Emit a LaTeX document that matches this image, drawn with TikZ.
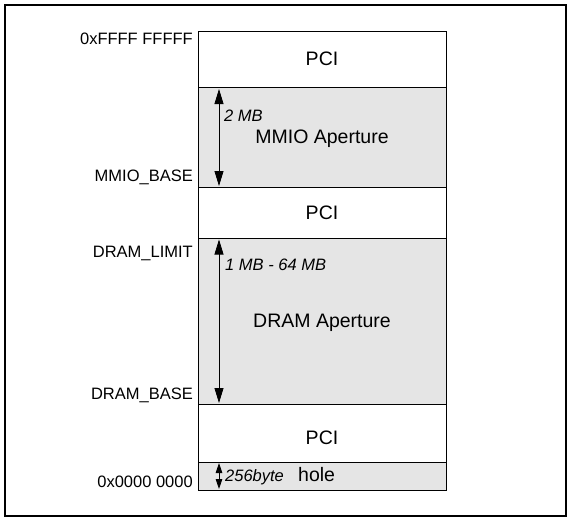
\documentclass[tikz,border=0pt]{standalone}
\usepackage{fontspec}
\setmainfont{Liberation Sans}
\usetikzlibrary{arrows.meta}
\begin{document}
\begin{tikzpicture}[x=1pt,y=-1pt,
 region/.style={draw, line width=0.9pt, minimum width=248pt, inner sep=0pt, text depth=0pt, font=\fontsize{19.5}{22}\selectfont},
 aperture/.style={region, fill=black!10},
 addr/.style={anchor=base east, inner sep=0pt, font=\fontsize{16.5}{19}\selectfont},
 sizelbl/.style={anchor=base west, inner sep=0pt, font=\fontsize{16.5}{19}\selectfont\itshape},
 plain/.style={anchor=base west, inner sep=0pt, font=\fontsize{19.5}{22}\selectfont},
 dim/.style={line width=0.8pt, {Triangle[length=15pt,width=9pt]}-{Triangle[length=15pt,width=9pt]}},
 smalldim/.style={line width=0.8pt, {Triangle[length=10pt,width=6.5pt]}-{Triangle[length=10pt,width=6.5pt]}}]
\useasboundingbox (0,0) rectangle (573,522);
\draw[line width=1.3pt] (5,5) rectangle (566,516);
% memory regions
\node[region, minimum height=56pt] (pcitop) at (322,59) {PCI};
\node[aperture, minimum height=100pt] (mmio) at (322,137) {MMIO Aperture};
\node[region, minimum height=51pt] (pcimid) at (322,212.5) {PCI};
\node[aperture, minimum height=166pt] (dram) at (322,321) {DRAM Aperture};
\node[region, minimum height=58pt, text height=22pt] (pcilow) at (322,433) {PCI};
\node[aperture, minimum height=28pt] (hole) at (322,476) {};
% address labels
\node[addr] (atop) at (193,44) {0xFFFF FFFFF};
\node[addr] (ammio) at (193,181) {MMIO\_BASE};
\node[addr] (alimit) at (193,257) {DRAM\_LIMIT};
\node[addr] (abase) at (193,399) {DRAM\_BASE};
\node[addr] (azero) at (193,487) {0x0000 0000};
% size labels
\node[sizelbl] (s2mb) at (224,121.5) {2 MB};
\node[sizelbl] (sdram) at (225,270.5) {1 MB - 64 MB};
\node[sizelbl] (s256) at (225,481) {256byte};
\node[plain] (holetxt) at (298,481) {hole};
% dimension arrows
\coordinate (m1) at (219,89);
\coordinate (m2) at (219,186);
\coordinate (d1) at (219,239.5);
\coordinate (d2) at (219,403);
\coordinate (h1) at (219,463);
\coordinate (h2) at (219,489);
\draw[dim] (m1) -- (m2);
\draw[dim] (d1) -- (d2);
\draw[smalldim] (h1) -- (h2);
\end{tikzpicture}
\end{document}
